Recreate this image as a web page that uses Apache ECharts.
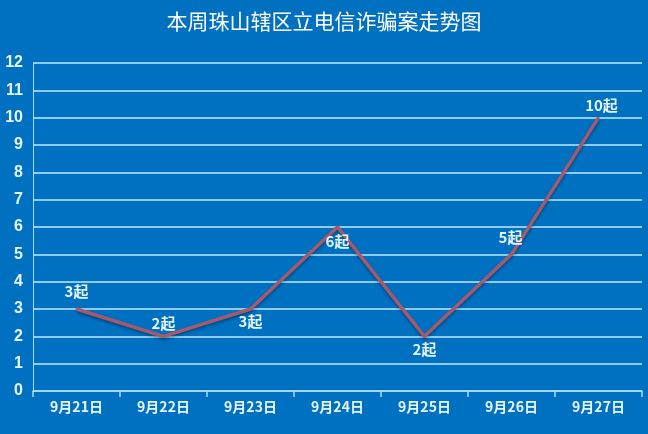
<!DOCTYPE html>
<html><head><meta charset="utf-8">
<script src="https://cdn.jsdelivr.net/npm/echarts@6/dist/echarts.min.js"></script>
<style>html,body{margin:0;padding:0;background:#0070C0;}#c{width:648px;height:434px;}</style>
</head><body><div id="c"></div>
<script>
const title = '本周珠山辖区立电信诈骗案走势图';
const categories = ['9月21日','9月22日','9月23日','9月24日','9月25日','9月26日','9月27日'];
const values = [3, 2, 3, 6, 2, 5, 10];
const labelPositions = ['top','top','bottom','bottom','bottom','top','top'];
const labelOffsets = [[0,-5],[0,-1],[0,0],[0,2],[0,0],[-1,-5],[3,0]];
const yTicks = [0,1,2,3,4,5,6,7,8,9,10,11,12];

const chart = echarts.init(document.getElementById('c'), null, {renderer:'canvas'});
const txt = '#E6F6FF';
chart.setOption({
  backgroundColor: '#0070C0',
  title: {text: title, left: 'center', top: 6,
    textStyle: {color: '#FFFFFF', fontSize: 21, fontWeight: 'normal', fontFamily: 'Noto Sans CJK SC'}},
  grid: {left: 33, right: 6, top: 63, bottom: 43, containLabel: false},
  xAxis: {type: 'category', data: categories, boundaryGap: true,
    axisLine: {lineStyle: {color: '#A8DDF5', width: 1.5}},
    axisTick: {show: true, length: 6, inside: false, lineStyle: {color: '#A8DDF5', width: 1.5}},
    axisLabel: {color: txt, fontSize: 14, fontWeight: 'bold', margin: 9, fontFamily: 'Noto Sans CJK SC'}},
  yAxis: {type: 'value', min: 0, max: 12, interval: 1,
    axisLine: {show: true, lineStyle: {color: '#A8DDF5', width: 1}},
    axisTick: {show: false},
    splitLine: {lineStyle: {color: '#BFEAFA', width: 1.5}},
    axisLabel: {color: txt, fontSize: 16, fontWeight: 'bold', margin: 10, fontFamily: 'Liberation Sans',
      formatter: v => yTicks.includes(v) ? String(v) : ''}},
  series: [{
    type: 'line', data: values.map((v,i)=>({value: v, label: {show: true, position: labelPositions[i], offset: labelOffsets[i]}})),
    symbol: 'circle', symbolSize: 2, showSymbol: true, smooth: false,
    itemStyle: {color: '#A35A6E'},
    lineStyle: {color: '#A35A6E', width: 3.5, shadowColor: 'rgba(0,0,0,0.35)', shadowBlur: 3, shadowOffsetY: 2},
    label: {show: true, color: txt, fontSize: 15, fontWeight: 'bold', distance: 4,
      fontFamily: 'Noto Sans CJK SC', formatter: p => p.value + '起'}
  }]
});
</script></body></html>
